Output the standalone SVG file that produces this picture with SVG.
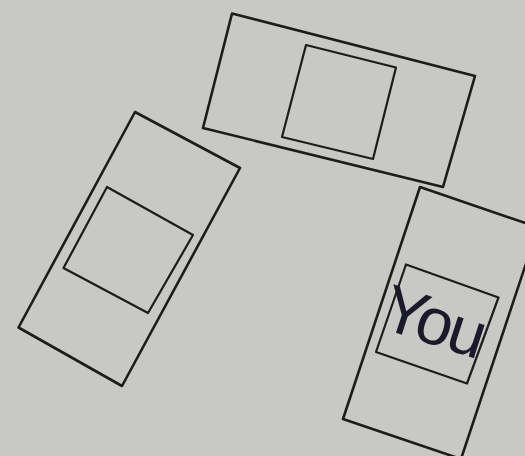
<svg xmlns="http://www.w3.org/2000/svg" width="525" height="456" viewBox="0 0 525 456">
<style>
.b{fill:none;stroke:#1c1c1c;stroke-width:2.6;stroke-linejoin:round}
.i{fill:none;stroke:#1c1c1c;stroke-width:2.2;stroke-linejoin:round}
.t{font-family:"Liberation Sans",Arial,sans-serif;font-size:66px;fill:#1a1a2a;letter-spacing:-3px}
</style>
<rect width="525" height="456" fill="#c8c9c4"/>
<g id="top-desk">
<polygon class="b" points="232,13.5 475,76 443,187 203,128"/>
<polygon class="i" points="306,45 396,67.5 373,159 282,137"/>
</g>
<g id="left-desk">
<polygon class="b" points="135,112 240,168 122,386 18.5,327.5"/>
<polygon class="i" points="107,187 193,235 148,313 63.5,268"/>
</g>
<g id="you-desk">
<polygon class="b" points="420,187 538,227.4 461,459 343,419"/>
<polygon class="i" points="406,264.5 498.5,297.5 467,383.5 376,352"/>
<text class="t" transform="translate(378,327) rotate(18)">You</text>
</g>
</svg>
